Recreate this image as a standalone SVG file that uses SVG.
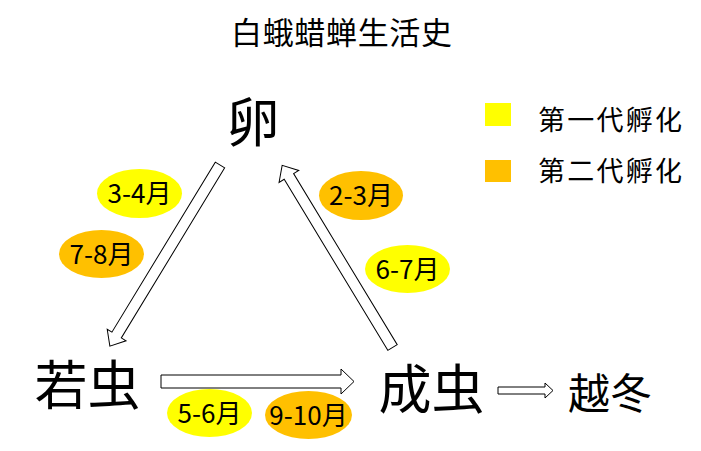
<svg xmlns="http://www.w3.org/2000/svg" width="701" height="451" viewBox="0 0 701 451">
<style>
text{font-family:"Noto Sans CJK SC","Noto Sans",sans-serif;fill:#000}
.big{font-size:53px;text-anchor:middle}
.lbl{font-size:26px;text-anchor:middle}
.leg{font-size:27px}
.arr{fill:#fff;stroke:#000;stroke-width:1}
.y{fill:#FFFF00}
.o{fill:#FFC000}
</style>
<rect width="701" height="451" fill="#fff"/>
<text id="title" x="231" y="44" font-size="31" textLength="221" lengthAdjust="spacing">白蛾蜡蝉生活史</text>
<g id="connectors">
<polygon class="arr" transform="translate(220,165) rotate(121.3)" points="0,-5.5 199,-5.5 199,-11 212,0 199,11 199,5.5 0,5.5"/>
<polygon class="arr" transform="translate(392.5,347.5) rotate(-121.2)" points="0,-5.5 200,-5.5 200,-11.5 213,0 200,11.5 200,5.5 0,5.5"/>
<polygon class="arr" points="161,375 341,375 341,369 354,381.5 341,394 341,388 161,388"/>
<polygon class="arr" points="498,387 545,387 545,383 553,390.5 545,398 545,394 498,394"/>
</g>
<g id="egg"><text class="big" x="253" y="142">卵</text></g>
<g id="nymph"><text class="big" x="87.5" y="405">若虫</text></g>
<g id="adult"><text class="big" x="431.5" y="409">成虫</text></g>
<g id="overwinter"><text x="610" y="409" font-size="42" text-anchor="middle">越冬</text></g>
<g id="l34"><ellipse class="y" cx="139.5" cy="193.5" rx="42.5" ry="24.5"/><text class="lbl" x="139.5" y="203">3-4月</text></g>
<g id="l78"><ellipse class="o" cx="101.5" cy="254" rx="42.5" ry="24"/><text class="lbl" x="101.5" y="263.5">7-8月</text></g>
<g id="l23"><ellipse class="o" cx="361" cy="195.5" rx="42" ry="24.5"/><text class="lbl" x="361" y="205">2-3月</text></g>
<g id="l67"><ellipse class="y" cx="407.5" cy="269" rx="42.5" ry="24"/><text class="lbl" x="407.5" y="278.5">6-7月</text></g>
<g id="l56"><ellipse class="y" cx="209.5" cy="413" rx="42.5" ry="24"/><text class="lbl" x="209.5" y="422.5">5-6月</text></g>
<g id="l910"><ellipse class="o" cx="308.5" cy="415" rx="43.5" ry="24"/><text class="lbl" x="308.5" y="424.5">9-10月</text></g>
<g id="legend">
<rect class="y" x="485" y="103" width="26" height="23"/>
<text class="leg" x="538" y="130" textLength="144" lengthAdjust="spacing">第一代孵化</text>
<rect class="o" x="485" y="160" width="26" height="22"/>
<text class="leg" x="538" y="181" textLength="144" lengthAdjust="spacing">第二代孵化</text>
</g>
</svg>
